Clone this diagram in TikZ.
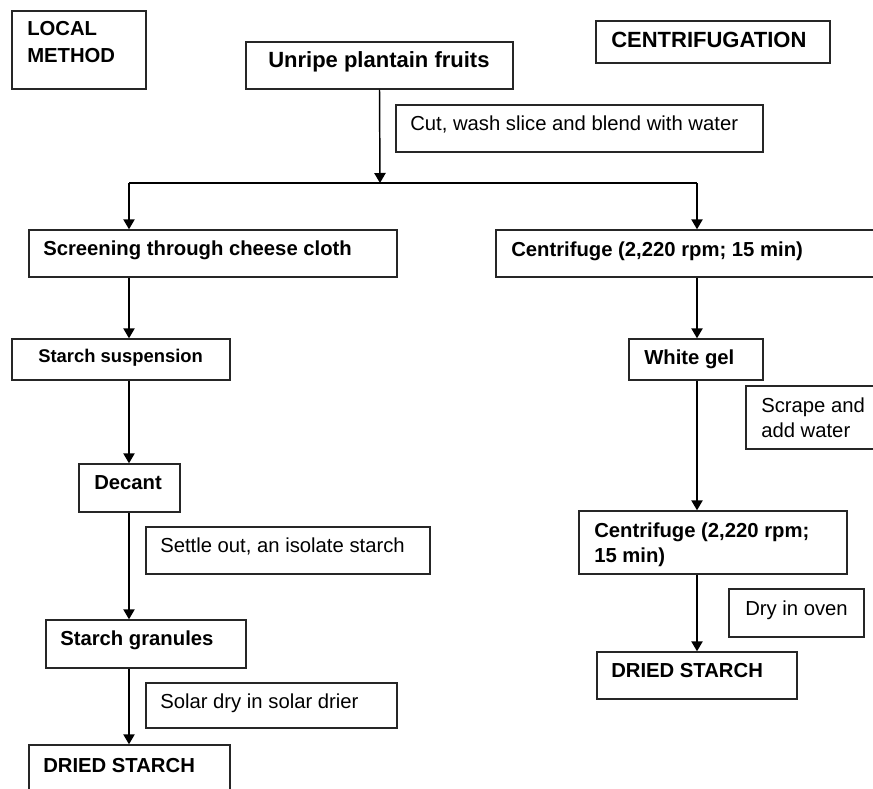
\documentclass[tikz,border=0pt]{standalone}
\usepackage{fontspec}
\setmainfont{Liberation Sans}
\usetikzlibrary{fit,arrows.meta}
\tikzset{
  box/.style={draw=black!85, line width=1.1pt, inner sep=0pt},
  lbl/.style={anchor=base west, inner sep=0pt, font=\fontsize{15.2pt}{18.75pt}\selectfont\bfseries},
  bigl/.style={lbl, font=\fontsize{16.5pt}{19pt}\selectfont\bfseries},
  smll/.style={lbl, font=\fontsize{13.8pt}{16pt}\selectfont\bfseries},
  note/.style={anchor=base west, inner sep=0pt, font=\fontsize{15.2pt}{18.75pt}\selectfont},
  arr/.style={draw=black, line width=1.1pt, -{Triangle[length=7.5pt,width=8.5pt]}},
  ln/.style={draw=black, line width=1.1pt}
}
\newcommand\mybox[5]{\node[box, fit={(#2,#3) (#4,#5)}] (#1) {};}
\begin{document}
\begin{tikzpicture}[x=0.75pt,y=-0.75pt]
\useasboundingbox (0,0) rectangle (873,788);
\clip (0,0) rectangle (873,788);
% boxes
\mybox{local}{12}{11}{146}{89}
\mybox{unripe}{246}{42}{513}{89}
\mybox{ctitle}{596}{21}{830}{63}
\mybox{cut}{396}{105}{763}{152}
\mybox{screen}{29}{230}{397}{277}
\mybox{cent1}{496}{230}{905}{277}
\mybox{susp}{12}{339}{230}{380}
\mybox{gel}{629}{339}{763}{380}
\mybox{scrape}{746}{386}{905}{449}
\mybox{decant}{79}{464}{180}{512}
\mybox{cent2}{579}{511}{847}{574}
\mybox{settle}{146}{527}{430}{574}
\mybox{dry}{729}{589}{864}{637}
\mybox{gran}{46}{620}{246}{668}
\mybox{driedR}{597}{652}{797}{699}
\mybox{solar}{146}{683}{397}{728}
\mybox{driedL}{29}{745}{230}{830}
% texts
\node[lbl] (t1) at (27,36) {LOCAL};
\node[lbl] (t2) at (27,63) {METHOD};
\node[bigl] (t3) at (268,68) {Unripe plantain fruits};
\node[bigl] (t4) at (611,48) {CENTRIFUGATION};
\node[note] (t5) at (410,131) {Cut, wash slice and blend with water};
\node[lbl] (t6) at (43,255) {Screening through cheese cloth};
\node[lbl] (t7) at (511,256) {Centrifuge (2,220 rpm; 15 min)};
\node[smll] (t8) at (38,362) {Starch suspension};
\node[lbl] (t9) at (644,364) {White gel};
\node[note] (t10) at (761,412) {Scrape and};
\node[note] (t11) at (761,437) {add water};
\node[lbl] (t12) at (94,489) {Decant};
\node[lbl] (t13) at (594,537) {Centrifuge (2,220 rpm;};
\node[lbl] (t14) at (594,562) {15 min)};
\node[note] (t15) at (160,552) {Settle out, an isolate starch};
\node[note] (t16) at (745,615) {Dry in oven};
\node[lbl] (t17) at (60,645) {Starch granules};
\node[lbl] (t18) at (611,677) {DRIED STARCH};
\node[note] (t19) at (160,708) {Solar dry in solar drier};
\node[lbl] (t20) at (43,772) {DRIED STARCH};
% connectors
\coordinate (split) at (380,183);
\coordinate (L) at (129,183);
\coordinate (R) at (697,183);
\draw[arr] (unripe.south) -- (split);
\draw[ln] (L) -- (R);
\draw[arr] (L) -- (screen.north -| L);
\draw[arr] (R) -- (cent1.north -| R);
\draw[arr] (screen.south -| L) -- (susp.north -| L);
\draw[arr] (susp.south -| L) -- (decant.north -| L);
\draw[arr] (decant.south -| L) -- (gran.north -| L);
\draw[arr] (gran.south -| L) -- (driedL.north -| L);
\draw[arr] (cent1.south -| R) -- (gel.north -| R);
\draw[arr] (gel.south -| R) -- (cent2.north -| R);
\draw[arr] (cent2.south -| R) -- (driedR.north -| R);
\end{tikzpicture}
\end{document}
